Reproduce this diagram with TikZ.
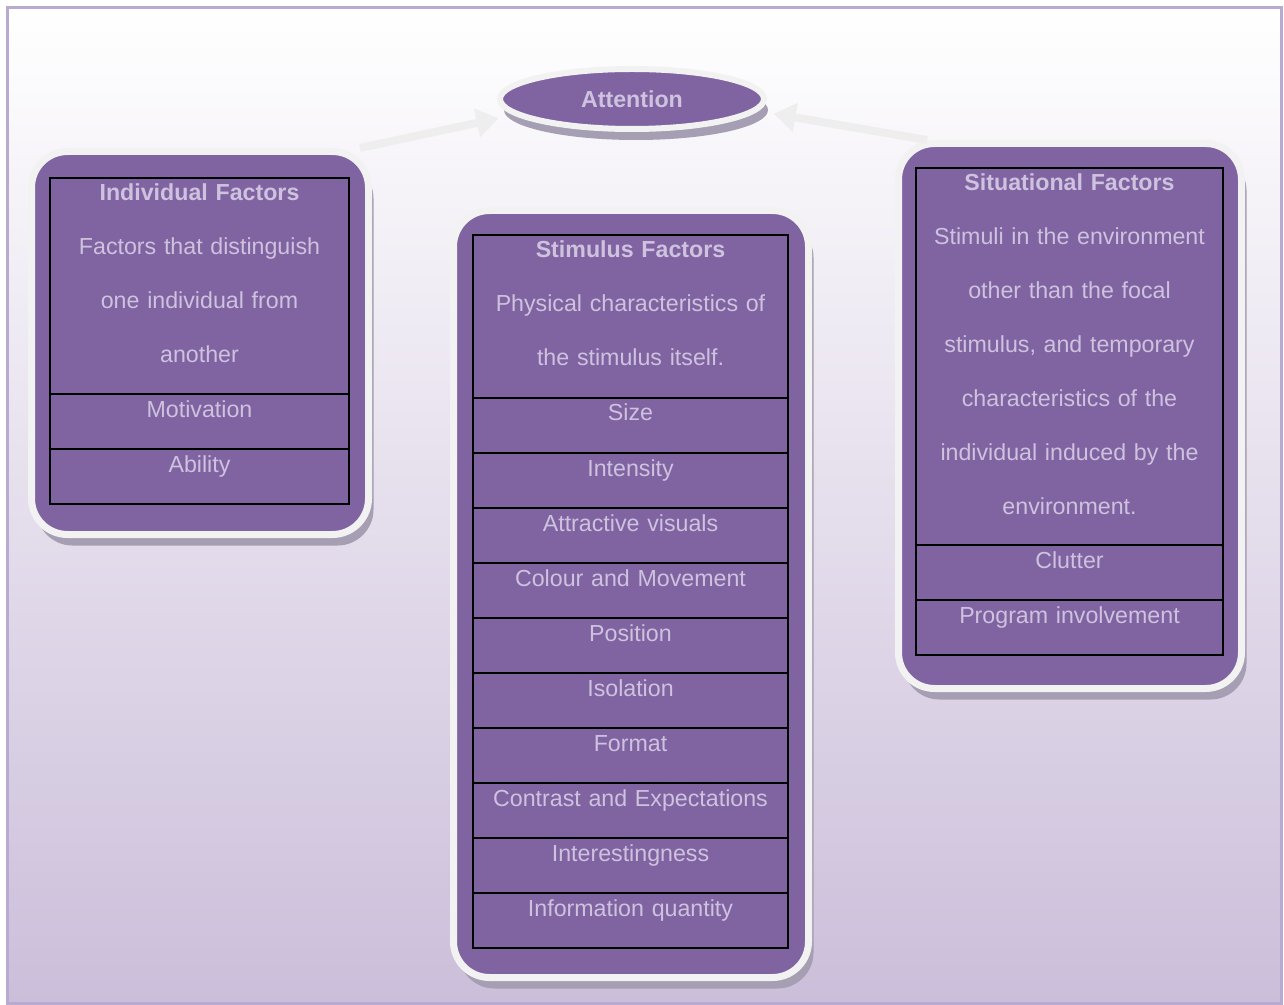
\documentclass[tikz,border=0pt]{standalone}
\usepackage{fontspec}
\setmainfont{Liberation Sans}
\usetikzlibrary{positioning,shapes.geometric,shadows,arrows.meta}

\definecolor{boxpurple}{RGB}{128,100,162}
\definecolor{boxtext}{RGB}{206,194,222}
\definecolor{rimwhite}{RGB}{242,242,242}
\definecolor{shadowgray}{RGB}{166,158,178}
\definecolor{pagebottom}{RGB}{203,190,218}
\definecolor{pageborder}{RGB}{185,170,210}
\definecolor{arrowgray}{RGB}{238,238,238}

\begin{document}
\begin{tikzpicture}[x=0.5pt, y=-0.5pt,
    factorbox/.style={rectangle, rounded corners=18pt, fill=boxpurple, draw=rimwhite,
        line width=3.5pt, inner sep=0pt,
        drop shadow={shadow xshift=2.5pt, shadow yshift=-5.5pt, fill=shadowgray, opacity=1}},
    attention/.style={ellipse, fill=boxpurple, draw=rimwhite, line width=3pt, inner sep=0pt,
        minimum width=132pt, minimum height=30pt, text=boxtext,
        font=\fontsize{11.6}{14}\selectfont\bfseries,
        drop shadow={shadow xshift=2pt, shadow yshift=-5.5pt, fill=shadowgray, opacity=1}},
    cell/.style={draw=black, line width=0.9pt, inner sep=0pt, outer sep=0pt, align=center,
        text height=11.5pt, text=boxtext, font=\fontsize{11.6}{27}\selectfont},
    rowcell/.style={cell, text depth=16pt},
    feed/.style={draw=arrowgray, line width=4pt, -{Triangle[length=11pt,width=14pt]}}]

    \useasboundingbox (0,0) rectangle (1284,1005);
    \draw[draw=pageborder, line width=1.5pt, top color=white, bottom color=pagebottom]
        (7,8) rectangle (1281,1003);

    % outer boxes
    \node[factorbox, minimum width=168.5pt, minimum height=191.5pt] (indbox) at (200,343) {};
    \node[factorbox, minimum width=177.5pt, minimum height=383.5pt] (stimbox) at (631,594) {};
    \node[factorbox, minimum width=171.5pt, minimum height=272.5pt] (sitbox) at (1070,416) {};

    \node[attention] (attn) at (632,99) {Attention};

    % individual factors
    \node[cell, anchor=north west, text width=149.5pt, text depth=96.5pt] (i0) at (50,178)
        {\textbf{Individual Factors}\\Factors that distinguish\\one individual from\\another};
    \node[rowcell, text width=149.5pt, below=0pt of i0] (i1) {Motivation};
    \node[rowcell, text width=149.5pt, below=0pt of i1] (i2) {Ability};

    % stimulus factors
    \node[cell, anchor=north west, text width=157.5pt, text depth=70pt] (s0) at (473,235)
        {\textbf{Stimulus Factors}\\Physical characteristics of\\the stimulus itself.};
    \foreach \rowtext [count=\n, remember=\n as \prev (initially 0)] in
        {Size, Intensity, Attractive visuals, Colour and Movement, Position,
         Isolation, Format, Contrast and Expectations, Interestingness, Information quantity}
        \node[rowcell, text width=157.5pt, below=0pt of s\prev] (s\n) {\rowtext};

    % situational factors
    \node[cell, anchor=north west, text width=153.5pt, text depth=177pt] (t0) at (916,168)
        {\textbf{Situational Factors}\\Stimuli in the environment\\other than the focal\\stimulus, and temporary\\characteristics of the\\individual induced by the\\environment.};
    \node[rowcell, text width=153.5pt, below=0pt of t0] (t1) {Clutter};
    \node[rowcell, text width=153.5pt, below=0pt of t1] (t2) {Program involvement};

    % into attention
    \draw[feed] ([xshift=-6pt]indbox.north east) -- ([xshift=-12pt]attn.190);
    \draw[feed] ([xshift=16pt]sitbox.north west) -- ([xshift=10.5pt]attn.-7);

\end{tikzpicture}
\end{document}
